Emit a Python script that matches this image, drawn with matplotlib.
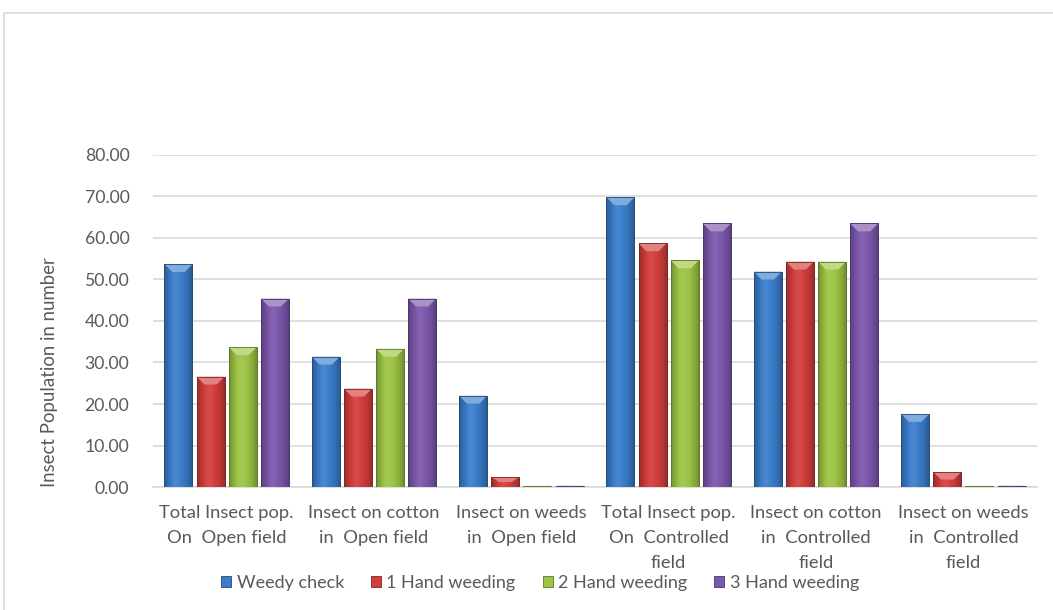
import numpy as np
import matplotlib.pyplot as plt
import matplotlib.patches as mpatches
from matplotlib.colors import to_rgb

plt.rcParams['font.family'] = ['Lato', 'DejaVu Sans']

# Chart data
categories = [
    "Total Insect pop.\nOn  Open field",
    "Insect on cotton\nin  Open field",
    "Insect on weeds\nin  Open field",
    "Total Insect pop.\nOn  Controlled\nfield",
    "Insect on cotton\nin  Controlled\nfield",
    "Insect on weeds\nin  Controlled\nfield",
]
series_names = ["Weedy check", "1 Hand weeding", "2 Hand weeding", "3 Hand weeding"]
weedy_check = [53.7, 31.4, 22.0, 69.8, 51.9, 17.6]
hand_1 = [26.6, 23.7, 2.4, 58.7, 54.3, 3.6]
hand_2 = [33.7, 33.3, 0.3, 54.6, 54.3, 0.3]
hand_3 = [45.4, 45.4, 0.3, 63.5, 63.5, 0.3]
series_values = [weedy_check, hand_1, hand_2, hand_3]
colors = ['#3B7DCB', '#D23E3C', '#9CC444', '#7C58AC']

TEXT = '#595959'
GRID = '#D9D9D9'

fig = plt.figure(figsize=(10.53, 6.10), dpi=100)
ax = fig.add_axes([0.1453, 0.2016, 0.8395, 0.5444])

# Outer chart border like the office chart frame
fig.patches.append(mpatches.Rectangle((4 / 1053, -0.05), 1.2, 1 - 13 / 610 + 0.05,
                                      transform=fig.transFigure, fill=False,
                                      edgecolor=GRID, linewidth=1.2))


def shade(rgb, f):
    rgb = np.array(rgb)
    if f >= 0:
        return rgb + (1 - rgb) * f
    return rgb * (1 + f)


def cylinder_image(color):
    base = to_rgb(color)
    xs = np.linspace(0, 1, 64)
    # bright towards the middle, darker at the edges
    f = 0.28 * np.sin(np.pi * xs) ** 0.8 - 0.28
    f = f + 0.08 * np.exp(-((xs - 0.4) / 0.18) ** 2)
    img = np.array([shade(base, v) for v in f])
    return np.clip(img[np.newaxis, :, :], 0, 1)


x = np.arange(len(categories))
step = 0.218
width = 0.19
offsets = (np.arange(len(series_names)) - 1.5) * step

handles = []
for vals, name, col, off in zip(series_values, series_names, colors, offsets):
    bars = ax.bar(x + off, vals, width, color=col, edgecolor=shade(to_rgb(col), -0.35),
                  linewidth=0.6, label=name, zorder=2)
    img = cylinder_image(col)
    for b in bars:
        x0, w, h = b.get_x(), b.get_width(), b.get_height()
        im = ax.imshow(img, extent=(x0, x0 + w, 0, h), aspect='auto', zorder=3,
                       interpolation='bilinear')
        im.set_clip_path(b)
        # bevelled top cap
        d = min(1.9, h * 0.5)
        cap = mpatches.Polygon([(x0, h), (x0 + w, h), (x0 + w * 0.72, h - d), (x0 + w * 0.28, h - d)],
                               closed=True, facecolor=shade(to_rgb(col), 0.35),
                               edgecolor='none', zorder=4)
        ax.add_patch(cap)
        ax.add_patch(mpatches.Rectangle((x0, 0), w, h, fill=False,
                                        edgecolor=shade(to_rgb(col), -0.4),
                                        linewidth=0.6, zorder=5))
    handles.append(mpatches.Patch(facecolor=col, edgecolor=shade(to_rgb(col), -0.4),
                                  linewidth=0.6, label=name))

ax.set_xlim(-0.5, len(categories) - 0.5)
ax.set_ylim(0, 80)
ax.set_yticks(np.arange(0, 81, 10))
ax.set_yticklabels([f"{v:.2f}" for v in np.arange(0, 81, 10)], fontsize=12.7, color=TEXT)
ax.set_xticks(x)
ax.set_xticklabels(categories, fontsize=13.2, color=TEXT, linespacing=1.7, va='top')
ax.tick_params(axis='both', length=0)
ax.tick_params(axis='y', pad=17)
ax.tick_params(axis='x', pad=13)
ax.grid(axis='y', color=GRID, linewidth=1.2, zorder=0)
ax.set_axisbelow(True)
for s in ['top', 'right', 'left']:
    ax.spines[s].set_visible(False)
ax.spines['bottom'].set_color(GRID)
ax.spines['bottom'].set_linewidth(1.2)

fig.text(50 / 1053, 1 - 372 / 610, "Insect Population in number", rotation=90,
         ha='center', va='center', fontsize=13.4, color=TEXT)

fig.legend(handles=handles, loc='center', bbox_to_anchor=(540 / 1053, 1 - 583 / 610),
           ncol=4, frameon=False, fontsize=13, labelcolor=TEXT,
           handlelength=0.55, handleheight=0.55, handletextpad=0.3, columnspacing=1.5)

fig.savefig('out.png', dpi=100)
